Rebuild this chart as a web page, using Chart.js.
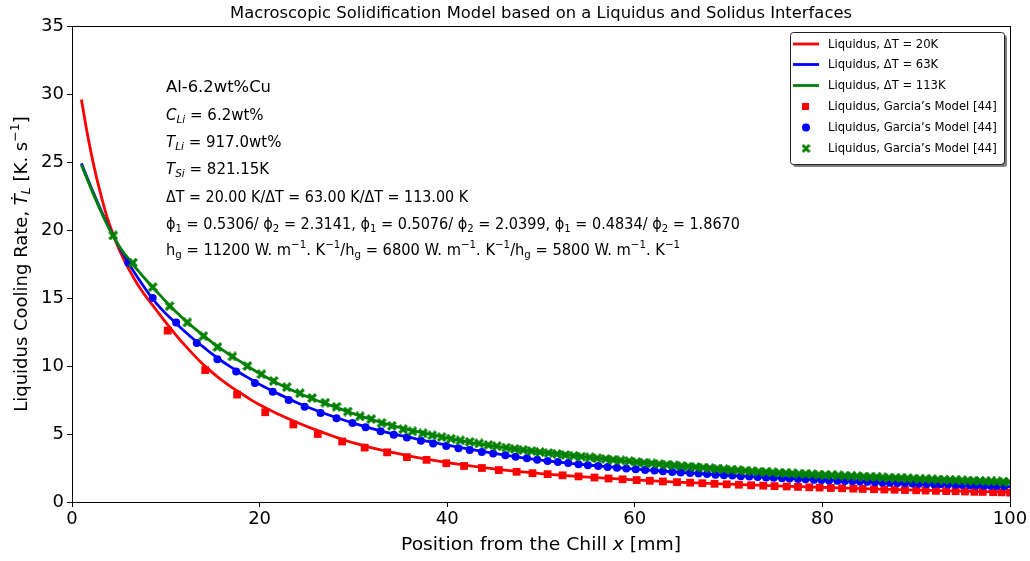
<!DOCTYPE html>
<html><head><meta charset="utf-8">
<script src="https://cdn.jsdelivr.net/npm/chart.js@4.4.0/dist/chart.umd.min.js"></script>
<style>html,body{margin:0;padding:0;background:#fff;}canvas{display:block;}</style>
</head><body>
<canvas id="c" width="1030" height="561"></canvas>
<script>
// ---------- data ----------
const xTicks = [0, 20, 40, 60, 80, 100];
const yTicks = [0, 5, 10, 15, 20, 25, 30, 35];

const redLineX = [1,1.5,2,2.5,3,3.5,4,5,6,7,8,9,10,11,12,13,14,15,16,17,18,19,20,21,22,24,26,28,30,32,34,36,38,40,45,50,55,60,65,70,75,80,85,90,95,100];
const redLineY = [29.6,27.6,25.8,24.2,22.8,21.5,20.4,18.6,17.2,16.0,15.0,14.1,13.2,12.35,11.55,10.8,10.1,9.5,8.95,8.45,8.0,7.55,7.15,6.8,6.45,5.85,5.3,4.8,4.35,3.98,3.66,3.38,3.13,2.9,2.44,2.09,1.83,1.62,1.45,1.31,1.18,1.07,0.97,0.88,0.8,0.72];

const blueLineX = [1,2,3,4,5,6,7,8,9,10,11,12,13,14,15,16,17,18,19,20,22,24,26,28,30,32,34,36,38,40,45,50,55,60,65,70,75,80,85,90,95,100];
const blueLineY = [24.9,23.2,21.6,20.1,18.8,17.6,16.5,15.5,14.6,13.85,13.2,12.55,11.95,11.4,10.85,10.35,9.9,9.45,9.05,8.65,7.95,7.3,6.75,6.25,5.8,5.4,5.05,4.75,4.45,4.18,3.58,3.08,2.72,2.42,2.17,1.96,1.77,1.62,1.48,1.35,1.23,1.13];

const greenLineX = [1,2,3,4,5,6,7,8,9,10,11,12,13,14,15,16,17,18,19,20,22,24,26,28,30,32,34,36,38,40,45,50,55,60,65,70,75,80,85,90,95,100];
const greenLineY = [24.8,23.1,21.5,20.05,18.85,17.9,17.05,16.25,15.5,14.75,14.05,13.4,12.8,12.25,11.7,11.2,10.75,10.3,9.85,9.45,8.7,8.05,7.5,7.0,6.5,6.05,5.65,5.3,5.0,4.7,4.1,3.67,3.29,2.95,2.65,2.38,2.15,1.98,1.85,1.71,1.59,1.47];

const redMarkX = [10.2,14.2,17.6,20.6,23.6,26.2,28.8,31.2,33.6,35.7,37.8,39.9,41.8,43.7,45.5,47.4,49.1,50.7,52.3,54.0,55.7,57.2,58.7,60.2,61.6,63.0,64.5,65.9,67.2,68.5,69.8,71.1,72.4,73.7,74.9,76.2,77.4,78.6,79.7,80.9,82.1,83.3,84.3,85.5,86.6,87.7,88.8,90.0,91.0,92.1,93.2,94.2,95.2,96.2,97.1,98.2,99.1,100];
const redMarkY = [12.6,9.7,7.9,6.6,5.7,5.0,4.45,4.0,3.65,3.3,3.1,2.85,2.65,2.5,2.35,2.22,2.12,2.05,1.96,1.88,1.8,1.73,1.67,1.61,1.56,1.51,1.46,1.42,1.38,1.34,1.30,1.27,1.23,1.2,1.17,1.14,1.11,1.08,1.06,1.03,1.01,0.98,0.96,0.94,0.92,0.90,0.88,0.86,0.84,0.82,0.80,0.79,0.77,0.75,0.74,0.72,0.71,0.69];

const blueMarkX = [6.0,8.6,11.1,13.3,15.5,17.5,19.5,21.4,23.1,24.8,26.5,28.2,29.9,31.3,32.9,34.3,35.7,37.2,38.5,39.9,41.2,42.4,43.7,44.9,46.2,47.3,48.5,49.6,50.7,51.8,52.9,54.0,55.0,56.1,57.1,58.1,59.1,60.1,61.1,62.1,63.0,64.0,64.9,65.9,66.8,67.7,68.6,69.5,70.4,71.3,72.2,73.1,74.0,74.8,75.7,76.5,77.4,78.2,79.1,79.9,80.7,81.6,82.4,83.2,84.0,84.8,85.6,86.4,87.2,88.0,88.8,89.6,90.3,91.1,91.9,92.6,93.4,94.2,94.9,95.7,96.4,97.2,97.9,98.6,99.4];
const blueMarkY = [17.6,15.0,13.2,11.7,10.5,9.6,8.75,8.1,7.5,7.0,6.55,6.15,5.8,5.5,5.2,4.95,4.75,4.5,4.3,4.12,3.96,3.82,3.68,3.56,3.43,3.32,3.21,3.11,3.02,2.94,2.86,2.78,2.71,2.64,2.58,2.52,2.46,2.41,2.36,2.31,2.26,2.21,2.17,2.13,2.09,2.05,2.01,1.97,1.94,1.90,1.87,1.84,1.81,1.78,1.75,1.72,1.69,1.67,1.64,1.62,1.59,1.57,1.55,1.52,1.50,1.48,1.46,1.44,1.42,1.40,1.38,1.36,1.35,1.33,1.31,1.30,1.28,1.26,1.25,1.23,1.22,1.20,1.19,1.18,1.16];

const greenMarkX = [4.4,6.5,8.6,10.4,12.3,14.0,15.5,17.1,18.7,20.2,21.5,22.9,24.3,25.6,27.0,28.2,29.4,30.7,31.9,33.0,34.1,35.3,36.3,37.4,38.4,39.4,40.4,41.4,42.4,43.4,44.4,45.3,46.3,47.2,48.1,49.0,49.9,50.8,51.7,52.6,53.5,54.3,55.2,56.0,56.9,57.7,58.5,59.4,60.2,61.0,61.8,62.6,63.4,64.2,65.0,65.7,66.5,67.3,68.0,68.8,69.5,70.3,71.0,71.8,72.5,73.2,74.0,74.7,75.4,76.1,76.8,77.5,78.2,78.9,79.6,80.3,81.0,81.7,82.4,83.1,83.7,84.4,85.1,85.8,86.4,87.1,87.8,88.4,89.1,89.7,90.4,91.0,91.7,92.3,93.0,93.6,94.2,94.9,95.5,96.1,96.8,97.4,98.0,98.6,99.3,99.9];
const greenMarkY = [19.6,17.6,15.8,14.4,13.2,12.2,11.4,10.7,10.0,9.4,8.9,8.45,8.0,7.65,7.3,7.0,6.65,6.3,6.1,5.8,5.6,5.35,5.2,5.05,4.9,4.77,4.65,4.53,4.42,4.31,4.2,4.1,4.0,3.91,3.83,3.75,3.67,3.6,3.53,3.46,3.4,3.34,3.28,3.22,3.17,3.11,3.06,3.01,2.94,2.89,2.84,2.79,2.74,2.7,2.65,2.61,2.57,2.53,2.49,2.45,2.41,2.37,2.34,2.3,2.27,2.24,2.21,2.18,2.15,2.13,2.1,2.08,2.06,2.04,2.01,1.99,1.97,1.95,1.93,1.91,1.89,1.87,1.85,1.83,1.81,1.79,1.77,1.76,1.74,1.72,1.70,1.69,1.67,1.65,1.64,1.62,1.61,1.59,1.58,1.56,1.55,1.53,1.52,1.51,1.49,1.48];

const seriesLabels = ['Liquidus, ΔT = 20K','Liquidus, ΔT = 63K','Liquidus, ΔT = 113K',
  'Liquidus, Garcia\u2019s Model [44]','Liquidus, Garcia\u2019s Model [44]','Liquidus, Garcia\u2019s Model [44]'];
const chartTitle = 'Macroscopic Solidification Model based on a Liquidus and Solidus Interfaces';

// ---------- helpers ----------
const FONT = '"DejaVu Sans", "Liberation Sans", sans-serif';
const RED = '#ff0000', BLUE = '#0000ff', GREEN = '#008000';
function zip(xs, ys){ const n=Math.min(xs.length, ys.length); const o=[]; for(let i=0;i<n;i++) o.push({x:xs[i], y:ys[i]}); return o; }

function makeX(size, color){
  const c = document.createElement('canvas'); c.width = size; c.height = size;
  const g = c.getContext('2d'); g.strokeStyle = color; g.lineWidth = size*0.32; g.lineCap='butt';
  const m = size*0.12;
  g.beginPath(); g.moveTo(m,m); g.lineTo(size-m,size-m); g.moveTo(size-m,m); g.lineTo(m,size-m); g.stroke();
  return c;
}
const xMarker = makeX(10, GREEN);
const xMarkerLegend = makeX(9, GREEN);

// rich text runs: {t, i:italic, sub, sup}
function runsWidth(ctx, runs, size){
  let w=0; for(const r of runs){ const fs=(r.sub||r.sup)?size*0.7:size; ctx.font=(r.i?'italic ':'')+fs+'px '+FONT; w+=ctx.measureText(r.t).width; } return w;
}
function drawRuns(ctx, x, y, runs, size){
  let cx=x;
  for(const r of runs){
    const fs=(r.sub||r.sup)?size*0.7:size;
    ctx.font=(r.i?'italic ':'')+fs+'px '+FONT;
    const dy = r.sub? size*0.28 : (r.sup? -size*0.36 : 0);
    ctx.fillText(r.t, cx, y+dy);
    cx += ctx.measureText(r.t).width;
  }
}
const N = t=>({t}), I = t=>({t,i:true}), SB = t=>({t,sub:true}), SBI = t=>({t,sub:true,i:true}), SP = t=>({t,sup:true});

const annotLines = [
  [N('Al-6.2wt%Cu')],
  [I('C'), SBI('Li'), N(' = 6.2wt%')],
  [I('T'), SBI('Li'), N(' = 917.0wt%')],
  [I('T'), SBI('Si'), N(' = 821.15K')],
  [N('ΔT = 20.00 K/ΔT = 63.00 K/ΔT = 113.00 K')],
  [N('ϕ'),SB('1'),N(' = 0.5306/ ϕ'),SB('2'),N(' = 2.3141, ϕ'),SB('1'),N(' = 0.5076/ ϕ'),SB('2'),N(' = 2.0399, ϕ'),SB('1'),N(' = 0.4834/ ϕ'),SB('2'),N(' = 1.8670')],
  [N('h'),SB('g'),N(' = 11200 W. m'),SP('−1'),N('. K'),SP('−1'),N('/h'),SB('g'),N(' = 6800 W. m'),SP('−1'),N('. K'),SP('−1'),N('/h'),SB('g'),N(' = 5800 W. m'),SP('−1'),N('. K'),SP('−1')]
];
const annotY = [88, 116, 143, 170, 198, 225, 251];
const annotW = [105, null, null, null, 302, 574, 514];

const decor = {
  id:'decor',
  afterDraw(chart){
    const ctx = chart.ctx, a = chart.chartArea;
    ctx.save();
    // frame
    ctx.strokeStyle='#000'; ctx.lineWidth=1;
    ctx.strokeRect(Math.round(a.left)+0.5, Math.round(a.top)+0.5, Math.round(a.right-a.left), Math.round(a.bottom-a.top));
    ctx.fillStyle='#000'; ctx.textBaseline='middle';
    // title
    ctx.font='16px '+FONT; ctx.textAlign='center';
    const tw = ctx.measureText(chartTitle).width;
    ctx.save(); ctx.translate(541, 14); ctx.scale(622/tw, 1); ctx.fillText(chartTitle, 0, 0); ctx.restore();
    // x label
    ctx.textAlign='left';
    const xr=[N('Position from the Chill '), I('x'), N(' [mm]')];
    let w = runsWidth(ctx, xr, 18);
    ctx.save(); ctx.translate((a.left+a.right)/2, 545); const kx = 280/w; ctx.scale(kx,1);
    drawRuns(ctx, -w/2, 0, xr, 18); ctx.restore();
    // y label
    const yr=[N('Liquidus Cooling Rate, '), I('T\u0307'), SBI('L'), N(' [K. s'), SP('−1'), N(']')];
    w = runsWidth(ctx, yr, 18);
    ctx.save(); ctx.translate(22, (a.top+a.bottom)/2); ctx.rotate(-Math.PI/2);
    drawRuns(ctx, -w/2, 0, yr, 18); ctx.restore();
    // annotations
    for(let i=0;i<annotLines.length;i++){
      const r=annotLines[i]; const nw=runsWidth(ctx, r, 15);
      ctx.save(); ctx.translate(166, annotY[i]);
      if(annotW[i]) ctx.scale(annotW[i]/nw, 1);
      drawRuns(ctx, 0, 0, r, 15); ctx.restore();
    }
    // legend
    const L=790, T=32, R=1004, B=164;
    function rr(x,y,w,h,rad){ ctx.beginPath(); ctx.moveTo(x+rad,y); ctx.lineTo(x+w-rad,y); ctx.quadraticCurveTo(x+w,y,x+w,y+rad); ctx.lineTo(x+w,y+h-rad); ctx.quadraticCurveTo(x+w,y+h,x+w-rad,y+h); ctx.lineTo(x+rad,y+h); ctx.quadraticCurveTo(x,y+h,x,y+h-rad); ctx.lineTo(x,y+rad); ctx.quadraticCurveTo(x,y,x+rad,y); ctx.closePath(); }
    ctx.fillStyle='rgba(0,0,0,0.5)'; rr(L+3,T+3,R-L,B-T,3); ctx.fill();
    ctx.fillStyle='#fff'; rr(L,T,R-L,B-T,3); ctx.fill();
    ctx.strokeStyle='#222'; ctx.lineWidth=1; rr(L+0.5,T+0.5,R-L,B-T,3); ctx.stroke();
    const rows=[44,64.5,85.5,106.5,127.5,148.5];
    const ds = chart.data.datasets;
    const order=[0,1,2,3,4,5];
    ctx.font='11.6px '+FONT; ctx.textAlign='left'; ctx.textBaseline='middle';
    order.forEach((di,k)=>{
      const d=ds[di], y=rows[k];
      if(d.showLine){ ctx.strokeStyle=d.borderColor; ctx.lineWidth=2.8; ctx.beginPath(); ctx.moveTo(793,y); ctx.lineTo(819,y); ctx.stroke(); }
      else {
        ctx.fillStyle=d.backgroundColor;
        if(d.pointStyle==='rect'){ ctx.fillRect(802,y-3.5,7,7); }
        else if(d.pointStyle==='circle'){ ctx.beginPath(); ctx.arc(806,y,4,0,Math.PI*2); ctx.fill(); }
        else { ctx.drawImage(xMarkerLegend, 806-4.5, y-4.5); }
      }
      ctx.fillStyle='#000'; ctx.fillText(d.label, 828, y+0.5);
    });
    ctx.restore();
  }
};

const lineDs = (label, xs, ys, color, order)=>({label, data:zip(xs,ys), showLine:true, borderColor:color, backgroundColor:color, borderWidth:2.8, pointRadius:0, cubicInterpolationMode:'monotone', order});
const markDs = (label, xs, ys, color, style, radius, order)=>({label, data:zip(xs,ys), showLine:false, borderColor:color, backgroundColor:color, pointStyle:style, pointRadius:radius, pointBorderWidth:0, order});

new Chart(document.getElementById('c'), {
  type:'scatter',
  data:{ datasets:[
    lineDs(seriesLabels[0], redLineX, redLineY, RED, 6),
    lineDs(seriesLabels[1], blueLineX, blueLineY, BLUE, 5),
    lineDs(seriesLabels[2], greenLineX, greenLineY, GREEN, 4),
    markDs(seriesLabels[3], redMarkX, redMarkY, RED, 'rect', 5.5, 3),
    markDs(seriesLabels[4], blueMarkX, blueMarkY, BLUE, 'circle', 4, 2),
    markDs(seriesLabels[5], greenMarkX, greenMarkY, GREEN, xMarker, 5, 1)
  ]},
  options:{
    responsive:false, animation:false, devicePixelRatio:1,
    layout:{ padding:{ left:0, right:20, top:26, bottom:0 } },
    plugins:{ legend:{display:false}, title:{display:false}, tooltip:{enabled:false} },
    scales:{
      x:{ type:'linear', min:0, max:100,
        afterBuildTicks(s){ s.ticks = xTicks.map(v=>({value:v})); },
        afterFit(s){ s.height = 59; },
        ticks:{ font:{size:18, family:FONT}, color:'#000', padding:2, maxRotation:0 },
        grid:{ drawOnChartArea:false, drawTicks:true, tickLength:5, color:'#000' },
        border:{ color:'#000', width:1 } },
      y:{ type:'linear', min:0, max:35,
        afterBuildTicks(s){ s.ticks = yTicks.map(v=>({value:v})); },
        afterFit(s){ s.width = 72; },
        ticks:{ font:{size:18, family:FONT}, color:'#000', padding:3 },
        grid:{ drawOnChartArea:false, drawTicks:true, tickLength:5, color:'#000' },
        border:{ color:'#000', width:1 } }
    }
  },
  plugins:[decor]
});
</script>
</body></html>
